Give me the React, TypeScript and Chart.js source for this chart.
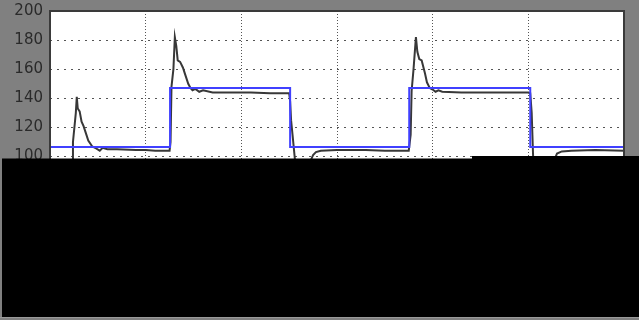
import React, { useEffect, useRef } from "react";
import { Chart, registerables } from "chart.js";

Chart.register(...registerables);

// Response (measured) signal
const responseTimes = [
  0, 0.2, 0.23, 0.24, 0.27, 0.28, 0.29, 0.31, 0.33, 0.35, 0.38, 0.4, 0.44, 0.47, 0.52, 0.55, 0.6, 0.7, 0.9, 1.0, 1.1, 1.2, 1.25,
  1.26, 1.27, 1.29, 1.305, 1.32, 1.335, 1.36, 1.39, 1.41, 1.445, 1.47, 1.49, 1.52, 1.56, 1.6, 1.7, 1.9, 2.1, 2.3, 2.5,
  2.51, 2.52, 2.535, 2.56, 2.6, 2.65, 2.72, 2.73, 2.75, 2.78, 2.83, 3.0, 3.3, 3.5, 3.75,
  3.77, 3.78, 3.8, 3.825, 3.84, 3.86, 3.885, 3.92, 3.94, 3.97, 4.0, 4.03, 4.06, 4.1, 4.3, 4.6, 5.0, 5.02,
  5.035, 5.05, 5.08, 5.15, 5.25, 5.28, 5.3, 5.35, 5.45, 5.7, 6.0,
];
const responseValues = [
  0, 60, 95, 110, 130, 141, 133, 131, 124, 121, 115, 111, 107, 106, 104, 106, 105, 105, 104.5, 104.5, 104, 104, 104,
  110, 148, 160, 182, 176, 166, 165, 161, 157, 150, 147, 145.5, 146.5, 144.5, 145.5, 144, 144, 144, 143.5, 143.5,
  138, 125, 115, 98, 80, 75, 88, 98, 101, 103, 104, 104.5, 104.5, 104, 104,
  115, 145, 160, 182, 172, 167, 166, 157, 151, 147, 146, 144.5, 145.5, 144.5, 144, 144, 144, 143.5,
  130, 100, 82, 78, 90, 99, 102, 103.5, 104, 104.5, 104,
];

// Setpoint (reference) signal, step changes
const setpointTimes = [0, 1.255, 2.51, 3.755, 5.02, 6];
const setpointValues = [106.5, 147, 106.5, 147, 106.5, 106.5];

const yTicks = [0, 20, 40, 60, 80, 100, 120, 140, 160, 180, 200];
const xTicks = [0, 1, 2, 3, 4, 5, 6];

export default function App() {
  const ref = useRef<HTMLCanvasElement | null>(null);

  useEffect(() => {
    if (!ref.current) return;
    const bgPlugin = {
      id: "bgPlugin",
      beforeDraw(chart: any) {
        const { ctx, chartArea } = chart;
        ctx.save();
        ctx.fillStyle = "#808080";
        ctx.fillRect(0, 0, chart.width, chart.height);
        ctx.fillStyle = "#ffffff";
        ctx.fillRect(chartArea.left, chartArea.top, chartArea.right - chartArea.left, chartArea.bottom - chartArea.top);
        ctx.restore();
      },
      afterDraw(chart: any) {
        const { ctx, chartArea } = chart;
        ctx.save();
        ctx.strokeStyle = "#3a3a3a";
        ctx.lineWidth = 2;
        ctx.strokeRect(chartArea.left, chartArea.top, chartArea.right - chartArea.left, chartArea.bottom - chartArea.top);
        // black masking block over the lower part
        ctx.fillStyle = "#000000";
        ctx.fillRect(2, 158.5, 637, 158.5);
        ctx.fillRect(472, 156, 167, 3);
        ctx.fillStyle = "#9a9a9a";
        ctx.fillRect(0, 317, 639, 1);
        ctx.restore();
      },
    };

    const chart = new Chart(ref.current, {
      type: "line",
      data: {
        datasets: [
          {
            label: "Setpoint",
            data: setpointTimes.map((t, i) => ({ x: t, y: setpointValues[i] })),
            borderColor: "#4040ff",
            borderWidth: 2,
            pointRadius: 0,
            stepped: "before",
            fill: false,
          },
          {
            label: "Response",
            data: responseTimes.map((t, i) => ({ x: t, y: responseValues[i] })),
            borderColor: "#383838",
            borderWidth: 2,
            pointRadius: 0,
            tension: 0,
            fill: false,
          },
        ],
      },
      options: {
        responsive: false,
        animation: false,
        layout: { padding: { left: 0, top: 11, right: 15, bottom: 0 } },
        plugins: { legend: { display: false }, tooltip: { enabled: false } },
        scales: {
          x: {
            type: "linear",
            min: 0,
            max: 6,
            afterBuildTicks(scale: any) {
              scale.ticks = xTicks.map((v) => ({ value: v }));
            },
            afterFit(scale: any) {
              scale.height = 18;
              scale.paddingLeft = 0;
              scale.paddingRight = 0;
            },
            grid: { color: "#555555", lineWidth: 1, tickLength: 0, drawTicks: false },
            border: { display: false, dash: [1, 2] },
            ticks: { color: "#333333", font: { family: "DejaVu Sans", size: 14 } },
          },
          y: {
            min: 0,
            max: 200,
            afterBuildTicks(scale: any) {
              scale.ticks = yTicks.map((v) => ({ value: v }));
            },
            afterFit(scale: any) {
              scale.width = 50;
              scale.paddingTop = 0;
              scale.paddingBottom = 0;
            },
            grid: { color: "#555555", lineWidth: 1, drawTicks: false },
            border: { display: false, dash: [2, 5] },
            ticks: { color: "#2a2a2a", padding: 7, font: { family: "DejaVu Sans", size: 15 } },
          },
        },
      },
      plugins: [bgPlugin],
    } as any);
    return () => chart.destroy();
  }, []);

  return (
    <div style={{ position: "absolute", left: 0, top: 0, width: 639, height: 320 }}>
      <canvas ref={ref} width={639} height={320} style={{ display: "block" }} />
    </div>
  );
}
